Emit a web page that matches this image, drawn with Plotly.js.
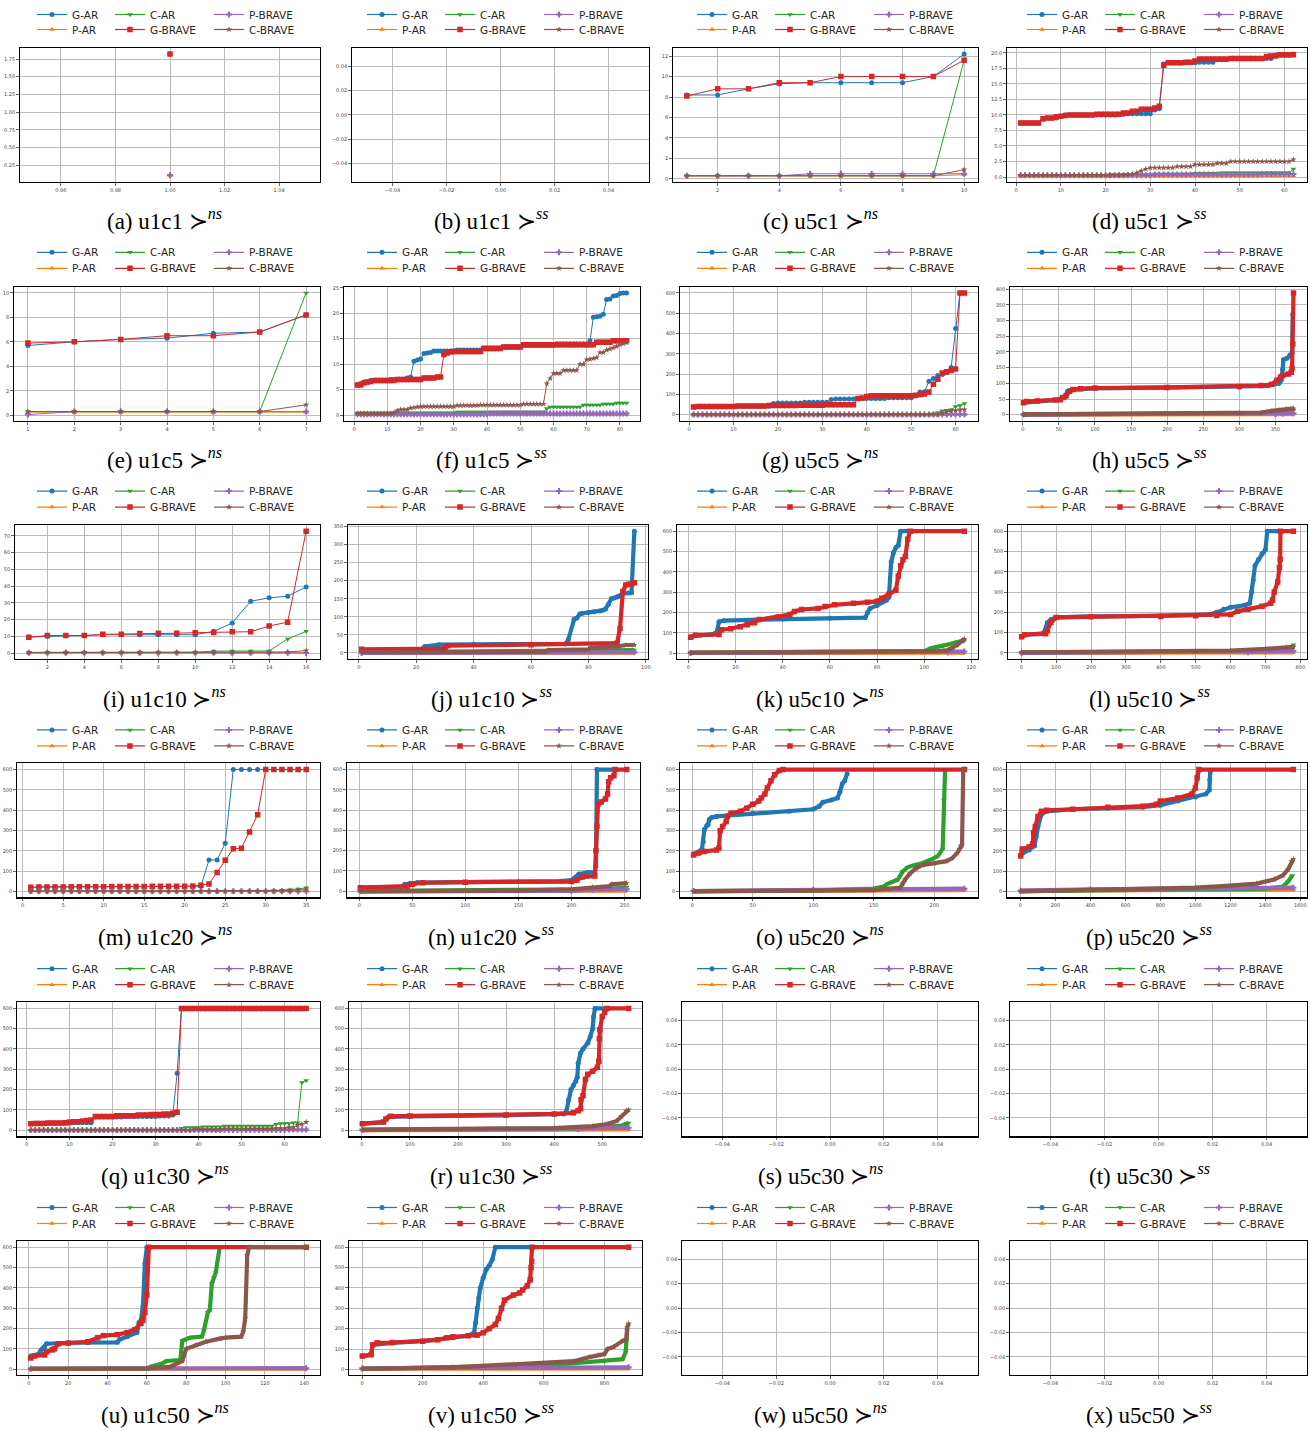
<!DOCTYPE html>
<html><head><meta charset="utf-8">
<script src="https://cdn.plot.ly/plotly-3.0.1.min.js"></script>
<style>body{margin:0;background:#fff}</style>
</head><body><div id="chart" style="width:1310px;height:1431px"></div>
<script>
const SERIES = ['G-AR','P-AR','C-AR','G-BRAVE','P-BRAVE','C-BRAVE'];

// (a) u1c1 ns
const a_GAR=[1.82], a_PAR=[0.1], a_CAR=[], a_GBR=[1.82], a_PBR=[0.11], a_CBR=[];
// (b) u1c1 ss (no data)
const b_GAR=[], b_PAR=[], b_CAR=[], b_GBR=[], b_PBR=[], b_CBR=[];
// (c) u5c1 ns
const c_GAR=[8.2,8.2,8.8,9.3,9.4,9.4,9.4,9.4,10.0,12.2];
const c_PAR=[0.3,0.3,0.3,0.3,0.3,0.3,0.3,0.3,0.3,0.4];
const c_CAR=[0.3,0.3,0.3,0.3,0.3,0.3,0.3,0.3,0.3,11.6];
const c_GBR=[8.1,8.8,8.8,9.4,9.4,10.0,10.0,10.0,10.0,11.6];
const c_PBR=[0.3,0.3,0.3,0.3,0.5,0.5,0.5,0.5,0.5,0.5];
const c_CBR=[0.3,0.3,0.3,0.3,0.3,0.3,0.3,0.3,0.3,0.9];
// (d) u5c1 ss
const d_GAR=[8.7,8.7,8.7,8.7,8.7,9.3,9.5,9.5,9.5,9.8,10.0,10.0,10.0,10.0,10.0,10.0,10.0,10.0,10.0,10.0,10.0,10.0,10.1,10.1,10.2,10.2,10.2,10.2,10.2,10.2,10.8,11.0,18.2,18.4,18.4,18.4,18.4,18.4,18.4,18.4,18.5,18.5,18.5,18.5,18.9,18.9,18.9,19.1,19.1,19.1,19.1,19.1,19.1,19.1,19.1,19.1,19.1,19.6,19.6,19.6,19.6,19.8];
const d_PAR=[0.2,0.2,0.2,0.2,0.2,0.2,0.2,0.2,0.2,0.2,0.2,0.2,0.2,0.2,0.2,0.2,0.2,0.2,0.2,0.2,0.2,0.2,0.2,0.2,0.2,0.2,0.2,0.2,0.2,0.2,0.2,0.2,0.2,0.2,0.2,0.2,0.2,0.2,0.2,0.2,0.2,0.2,0.2,0.2,0.2,0.2,0.2,0.2,0.2,0.2,0.2,0.2,0.2,0.2,0.2,0.2,0.2,0.2,0.2,0.2,0.2,0.2];
const d_CAR=[0.3,0.3,0.3,0.3,0.3,0.3,0.3,0.3,0.3,0.3,0.3,0.3,0.3,0.3,0.3,0.3,0.3,0.3,0.3,0.3,0.4,0.4,0.4,0.4,0.4,0.4,0.4,0.4,0.4,0.4,0.5,0.5,0.5,0.5,0.5,0.5,0.5,0.5,0.5,0.6,0.6,0.6,0.6,0.6,0.6,0.7,0.7,0.7,0.7,0.7,0.7,0.7,0.7,0.7,0.7,0.7,0.7,0.7,0.7,0.7,0.7,1.3];
const d_GBR=[8.7,8.7,8.7,8.7,8.7,9.4,9.5,9.5,9.7,9.8,9.9,10.0,10.0,10.0,10.0,10.0,10.0,10.1,10.1,10.1,10.1,10.1,10.1,10.3,10.3,10.6,10.6,10.9,10.9,10.9,11.1,11.4,18.0,18.4,18.4,18.4,18.4,18.5,18.5,18.7,19.0,19.0,19.0,19.0,19.0,19.0,19.0,19.1,19.1,19.1,19.1,19.1,19.1,19.1,19.1,19.4,19.5,19.5,19.7,19.7,19.7,19.7];
const d_PBR=[0.3,0.3,0.3,0.3,0.3,0.3,0.3,0.3,0.3,0.3,0.3,0.3,0.3,0.3,0.3,0.3,0.3,0.3,0.3,0.3,0.3,0.3,0.3,0.3,0.3,0.3,0.3,0.3,0.3,0.3,0.4,0.4,0.4,0.4,0.4,0.4,0.4,0.4,0.4,0.4,0.4,0.4,0.4,0.4,0.4,0.4,0.4,0.4,0.4,0.4,0.4,0.4,0.4,0.4,0.5,0.5,0.5,0.5,0.5,0.5,0.5,0.5];
const d_CBR=[0.3,0.3,0.3,0.3,0.3,0.3,0.3,0.3,0.3,0.3,0.3,0.3,0.3,0.3,0.3,0.3,0.3,0.3,0.3,0.3,0.3,0.3,0.3,0.3,0.4,0.5,0.7,1.0,1.3,1.5,1.5,1.5,1.5,1.5,1.5,1.7,1.7,1.7,1.7,2.0,2.0,2.0,2.0,2.0,2.2,2.2,2.2,2.5,2.5,2.5,2.5,2.5,2.5,2.5,2.5,2.5,2.5,2.5,2.5,2.5,2.5,2.8];
// (e) u1c5 ns
const e_GAR=[5.7,6.0,6.2,6.3,6.7,6.8,8.2];
const e_PAR=[0.25,0.25,0.25,0.25,0.25,0.25,0.25];
const e_CAR=[0.3,0.3,0.3,0.3,0.3,0.3,10.0];
const e_GBR=[5.9,6.0,6.2,6.5,6.5,6.8,8.2];
const e_PBR=[0.05,0.3,0.3,0.3,0.3,0.3,0.3];
const e_CBR=[0.3,0.3,0.3,0.3,0.3,0.3,0.85];
// (f) u1c5 ss
const f_GAR=[5.9,6.2,6.5,6.5,6.8,6.8,6.8,6.8,6.8,6.8,7.0,7.0,7.0,7.0,7.0,7.3,7.5,10.6,10.8,11.0,12.1,12.2,12.3,12.6,12.6,12.6,12.6,12.6,12.6,12.6,12.8,12.8,12.8,12.8,12.8,12.8,12.8,12.8,13.2,13.2,13.2,13.2,13.2,13.2,13.4,13.4,13.4,13.4,13.4,13.4,13.7,13.7,13.7,13.7,13.7,13.7,13.7,13.7,13.7,13.7,14.0,14.0,14.0,14.0,14.0,14.0,14.0,14.0,14.0,14.0,14.6,19.2,19.3,19.4,19.8,22.7,22.8,23.4,23.5,23.9,24.0,24.0];
const f_PAR=[0.1,0.1,0.1,0.1,0.1,0.1,0.1,0.1,0.1,0.1,0.1,0.1,0.1,0.1,0.1,0.1,0.1,0.1,0.1,0.1,0.1,0.1,0.1,0.1,0.1,0.1,0.1,0.1,0.1,0.1,0.1,0.1,0.1,0.1,0.1,0.1,0.1,0.1,0.1,0.1,0.1,0.1,0.1,0.1,0.1,0.1,0.1,0.1,0.1,0.1,0.1,0.1,0.1,0.1,0.1,0.1,0.1,0.1,0.1,0.1,0.1,0.1,0.1,0.1,0.1,0.1,0.1,0.1,0.1,0.1,0.1,0.1,0.1,0.1,0.1,0.1,0.1,0.1,0.1,0.1,0.1,0.1];
const f_CAR=[0.4,0.4,0.4,0.4,0.4,0.4,0.4,0.4,0.4,0.4,0.4,0.4,0.4,0.4,0.4,0.4,0.4,0.4,0.4,0.4,0.4,0.4,0.4,0.4,0.4,0.4,0.4,0.4,0.4,0.4,0.6,0.6,0.6,0.6,0.6,0.6,0.6,0.6,0.6,0.6,0.6,0.6,0.6,0.6,0.6,0.6,0.6,0.6,0.6,0.6,0.6,0.6,0.6,0.6,0.6,0.6,0.6,1.3,1.6,1.6,1.6,1.6,1.6,1.6,1.6,1.6,1.6,1.6,2.0,2.0,2.0,2.0,2.0,2.0,2.2,2.2,2.2,2.2,2.4,2.4,2.4,2.4];
const f_GBR=[5.9,5.9,6.3,6.5,6.6,6.8,6.8,6.8,6.8,6.8,6.8,6.8,7.0,7.0,7.0,7.0,7.0,7.0,7.0,7.0,7.3,7.3,7.3,7.3,7.5,7.5,11.9,12.2,12.4,12.5,12.5,12.5,12.5,12.5,12.5,12.5,12.5,12.5,13.1,13.1,13.1,13.1,13.1,13.1,13.4,13.4,13.4,13.4,13.4,13.4,13.8,13.8,13.8,13.8,13.8,13.8,13.8,13.8,13.8,13.8,13.8,13.8,13.8,13.8,13.8,13.8,13.8,13.8,13.8,13.8,13.8,13.8,14.3,14.3,14.3,14.3,14.3,14.6,14.6,14.6,14.6,14.6];
const f_PBR=[0.15,0.15,0.15,0.15,0.15,0.15,0.15,0.15,0.15,0.15,0.15,0.15,0.15,0.15,0.15,0.15,0.15,0.15,0.15,0.15,0.15,0.15,0.15,0.15,0.15,0.15,0.15,0.15,0.15,0.15,0.15,0.15,0.15,0.15,0.15,0.15,0.15,0.15,0.15,0.15,0.3,0.3,0.3,0.3,0.3,0.3,0.3,0.3,0.3,0.3,0.3,0.3,0.3,0.3,0.3,0.3,0.3,0.3,0.3,0.3,0.3,0.3,0.3,0.3,0.3,0.3,0.3,0.3,0.3,0.3,0.3,0.3,0.3,0.3,0.3,0.3,0.3,0.3,0.3,0.3,0.3,0.3];
const f_CBR=[0.3,0.3,0.3,0.3,0.3,0.3,0.3,0.3,0.3,0.3,0.3,0.5,0.9,1.1,1.1,1.1,1.4,1.5,1.6,1.7,1.7,1.7,1.7,1.7,1.7,1.7,1.7,1.7,1.7,1.7,1.9,1.9,1.9,1.9,1.9,1.9,1.9,2.0,2.0,2.0,2.0,2.0,2.0,2.0,2.0,2.0,2.0,2.0,2.0,2.0,2.2,2.2,2.2,2.2,2.2,2.2,2.2,6.2,7.2,8.2,8.2,8.2,8.8,8.8,8.8,8.8,8.8,10.0,10.0,10.9,11.0,11.1,11.3,12.3,12.3,12.8,13.0,13.2,13.5,13.8,14.0,14.2];
// (g) u5c5 ns
const g_GAR=[38,40,40,40,40,40,40,40,40,40,42,42,42,42,42,42,42,42,55,58,58,58,58,58,58,61,61,61,61,61,61,75,78,78,78,78,78,80,80,80,80,80,80,80,83,83,83,83,83,83,92,112,113,165,178,193,198,208,232,425,600];
const g_PAR=[0.5,0.5,0.5,0.5,0.5,0.5,0.5,0.5,0.5,0.5,0.5,0.5,0.5,0.5,0.5,0.5,0.5,0.5,0.5,0.5,0.5,0.5,0.5,0.5,0.5,0.5,0.5,0.5,0.5,0.5,0.5,0.5,0.5,0.5,0.5,0.5,0.5,0.5,0.5,0.5,0.5,0.5,0.5,0.5,0.5,0.5,0.5,0.5,0.5,0.5,0.5,0.5,0.5,0.5,0.5,0.5,0.5,0.5,0.5,0.5,0.5,0.5];
const g_CAR=[1,1,1,1,1,1,1,1,1,1,1,1,1,1,1,1,1,1,1,1,1,1,1,1,1,1,1,1,1,1,1,1,1,1,1,1,1,1,1,1,1,1,1,1,1,1,1,1,1,1,1,1,1,1,5,10,20,22,25,40,45,55];
const g_GBR=[38,40,40,40,41,41,41,41,41,41,43,43,43,43,43,43,43,45,45,45,45,45,45,45,47,47,47,47,47,47,49,49,49,49,49,49,49,80,82,90,93,93,93,93,93,93,93,93,93,93,96,100,102,112,150,175,205,212,218,225,600,600];
const g_PBR=[0.5,0.5,0.5,0.5,0.5,0.5,0.5,0.5,0.5,0.5,0.5,0.5,0.5,0.5,0.5,0.5,0.5,0.5,0.5,0.5,0.5,0.5,0.5,0.5,0.5,0.5,0.5,0.5,0.5,0.5,0.5,0.5,0.5,0.5,0.5,0.5,0.5,0.5,0.5,0.5,0.5,0.5,0.5,0.5,0.5,0.5,0.5,0.5,0.5,0.5,0.5,0.5,0.5,0.5,0.5,0.5,0.5,0.5,2,2,2,2];
const g_CBR=[1,1,1,1,1,1,1,1,1,1,1,1,1,1,1,1,1,1,1,1,1,1,1,1,1,1,1,1,1,1,1,1,1,1,1,1,1,1,1,1,1,1,1,1,1,1,1,1,1,1,1,1,1,1,1,1,8,14,18,22,25,26];
// (h) u5c5 ss  [index, seconds] read at the corners of the curves
const h_GAR=[[1,38],[50,48],[58,55],[62,75],[68,80],[100,84],[200,86],[300,88],[340,92],[355,100],[358,110],[360,145],[361,175],[366,180],[370,190],[373,195],[374,320]];
const h_PAR=[[1,0.3],[375,2]];
const h_CAR=[[1,1],[340,5],[360,12],[375,15]];
const h_GBR=[[1,38],[5,42],[20,44],[45,47],[52,48],[55,55],[60,60],[65,75],[70,80],[80,83],[100,85],[200,87],[300,90],[330,93],[345,97],[352,110],[357,120],[360,125],[368,130],[372,135],[373,148],[374,225],[375,388]];
const h_PBR=[[1,0.5],[350,2],[360,4],[375,5]];
const h_CBR=[[1,1],[300,5],[330,7],[345,12],[355,15],[365,18],[375,20]];
// (i) u1c10 ns
const i_GAR=[9.5,10,10.3,10.5,11,11,11,11,11,11,13,18,31,33,34,39.5];
const i_PAR=[0.3,0.3,0.3,0.3,0.3,0.3,0.3,0.3,0.3,0.3,0.3,0.3,0.3,0.3,0.3,0.3];
const i_CAR=[0.5,0.5,0.5,0.5,0.5,0.5,0.5,0.5,0.5,0.5,1.2,1.2,1.2,1.3,8.5,13];
const i_GBR=[9.5,10.5,10.5,10.5,11.2,11.3,11.7,11.8,11.9,12.2,12.3,12.8,12.8,16.2,18.5,72.8];
const i_PBR=[0.2,0.2,0.2,0.2,0.2,0.2,0.2,0.2,0.2,0.2,0.2,0.2,0.2,0.2,0.2,0.1];
const i_CBR=[0.3,0.3,0.3,0.3,0.3,0.3,0.3,0.3,0.3,0.3,0.4,0.4,0.4,0.5,0.7,1.5];
// (j) u1c10 ss
const j_GAR=[[1,8],[22,10],[23,18],[27,20],[28,23],[40,24],[60,24],[72,25],[73,37],[75,93],[76,97],[77,108],[78,110],[80,112],[82,114],[84,116],[85,118],[86,122],[87,135],[88,150],[89,152],[90,155],[91,158],[92,164],[94,166],[95,167],[96,337]];
const j_PAR=[[1,0.5],[96,1]];
const j_CAR=[[1,2],[66,5],[80,6],[96,8]];
const j_GBR=[[1,10],[30,12],[31,20],[60,23],[89,25],[90,27],[91,68],[92,170],[93,188],[94,190],[95,191],[96,194]];
const j_PBR=[[1,0],[96,2]];
const j_CBR=[[1,2],[65,3],[66,8],[80,10],[81,15],[90,18],[93,22],[96,22]];
// (k) u5c10 ns
const k_GAR=[[1,80],[5,88],[10,92],[11,95],[12,100],[13,155],[15,160],[30,165],[40,168],[60,172],[75,175],[76,200],[77,220],[80,235],[84,260],[85,275],[86,450],[87,495],[88,520],[89,530],[90,600],[95,600]];
const k_PAR=[[1,1],[117,3]];
const k_CAR=[[1,3],[95,5],[100,10],[103,25],[108,35],[111,45],[114,55],[116,60],[117,62]];
const k_GBR=[[1,78],[3,88],[13,92],[14,115],[18,120],[22,130],[25,140],[28,150],[30,165],[38,178],[43,190],[45,205],[48,215],[55,220],[58,230],[62,238],[70,245],[76,250],[80,255],[82,270],[85,290],[88,310],[89,380],[90,430],[91,460],[92,475],[93,560],[94,600],[117,600]];
const k_PBR=[[1,1],[110,3],[117,8]];
const k_CBR=[[1,2],[100,5],[106,10],[110,15],[112,25],[114,40],[116,60],[117,70]];
// (l) u5c10 ss
const l_GAR=[[1,80],[10,90],[60,95],[65,100],[75,150],[85,165],[100,175],[200,180],[400,182],[500,185],[540,190],[560,200],[580,215],[600,225],[640,235],[655,245],[660,300],[665,360],[670,430],[680,460],[690,490],[700,510],[705,600],[740,600]];
const l_PAR=[[1,0],[780,3]];
const l_CAR=[[1,2],[700,10],[760,20],[778,30],[780,40]];
const l_GBR=[[1,80],[10,90],[70,95],[75,110],[85,150],[100,175],[200,178],[400,180],[500,183],[560,185],[600,190],[620,205],[650,215],[690,230],[715,245],[720,260],[725,300],[735,350],[740,420],[742,460],[743,600],[780,600]];
const l_PBR=[[1,0],[650,3],[700,8],[780,10]];
const l_CBR=[[1,3],[500,8],[600,12],[700,20],[760,28],[780,30]];
// (m) u1c20 ns
const m_GAR=[18,22,22,22,22,22,22,22,22,22,22,22,22,22,22,22,22,22,22,22,22,25,155,155,237,600,600,600,600,600,600,600,600,600,600];
const m_PAR=[0.5,0.5,0.5,0.5,0.5,0.5,0.5,0.5,0.5,0.5,0.5,0.5,0.5,0.5,0.5,0.5,0.5,0.5,0.5,0.5,0.5,0.5,0.5,0.5,0.5,0.5,0.5,0.5,0.5,0.5,0.5,0.5,0.5,0.5,0.5];
const m_CAR=[2,2,2,2,2,2,2,2,2,2,2,2,2,2,2,2,2,2,2,2,2,2,2,2,2,2,2,2,2,2,5,6,8,12,18];
const m_GBR=[20,22,22,22,22,23,23,23,23,23,24,24,24,24,24,25,25,25,25,25,27,30,37,93,153,210,213,293,378,600,600,600,600,600,600];
const m_PBR=[0.5,0.5,0.5,0.5,0.5,0.5,0.5,0.5,0.5,0.5,0.5,0.5,0.5,0.5,0.5,0.5,0.5,0.5,0.5,0.5,0.5,0.5,0.5,0.5,0.5,0.5,0.5,0.5,0.5,0.5,0.5,0.5,0.5,0.5,0.5];
const m_CBR=[1,1,1,1,1,1,1,1,1,1,1,1,1,1,1,1,1,1,1,1,1,1,1,1,1,1,1,1,1,1,1,3,5,7,9];
// (n) u1c20 ss
const n_GAR=[[1,18],[40,22],[43,35],[48,40],[55,43],[100,45],[150,47],[190,50],[200,55],[207,85],[215,92],[222,95],[223,125],[224,600],[240,600]];
const n_PAR=[[1,0],[252,3]];
const n_CAR=[[1,1],[200,5],[230,10],[252,20]];
const n_GBR=[[1,18],[45,25],[50,35],[60,42],[100,45],[200,48],[205,55],[210,70],[222,75],[223,200],[224,320],[225,430],[228,440],[232,455],[234,480],[235,540],[237,560],[240,570],[241,600],[252,600]];
const n_PBR=[[1,0],[200,2],[220,8],[252,10]];
const n_CBR=[[1,1],[150,3],[200,10],[220,20],[236,25],[238,35],[252,40]];
// (o) u5c20 ns
const o_GAR=[[1,185],[5,195],[8,210],[9,245],[10,305],[12,325],[13,330],[14,355],[16,365],[20,370],[30,375],[50,385],[80,395],[100,405],[105,420],[108,440],[115,450],[120,460],[122,490],[124,530],[126,545],[128,580]];
const o_PAR=[[1,3],[225,8]];
const o_CAR=[[1,3],[100,6],[150,15],[158,25],[162,40],[166,50],[170,60],[174,100],[178,120],[183,130],[190,140],[198,160],[203,175],[207,210],[208,450],[209,600]];
const o_GBR=[[1,180],[5,190],[10,198],[20,205],[22,215],[23,300],[25,320],[28,345],[29,370],[32,385],[40,395],[45,410],[50,430],[55,445],[57,460],[60,480],[62,510],[65,545],[68,575],[72,595],[75,600],[225,600]];
const o_PBR=[[1,3],[100,10],[225,15]];
const o_CBR=[[1,2],[150,8],[172,20],[174,40],[176,60],[180,90],[185,115],[190,130],[200,140],[210,150],[215,165],[219,190],[221,210],[222,225],[223,230],[224,600],[225,600]];
// (p) u5c20 ss
const p_GAR=[[1,180],[50,205],[80,225],[90,270],[100,320],[120,380],[150,395],[300,405],[500,410],[700,415],[800,425],[900,445],[1000,465],[1060,480],[1080,500],[1082,550],[1085,590]];
const p_PAR=[[1,5],[1560,10]];
const p_CAR=[[1,3],[1400,15],[1500,25],[1530,50],[1550,75],[1555,80]];
const p_GBR=[[1,175],[10,210],[50,220],[70,235],[75,290],[85,320],[100,370],[120,395],[150,400],[300,405],[500,415],[700,420],[780,430],[800,445],[900,460],[980,480],[1000,510],[1010,560],[1020,600],[1560,600]];
const p_PBR=[[1,5],[400,12],[1200,18],[1560,20]];
const p_CBR=[[1,2],[600,10],[1000,20],[1200,30],[1350,40],[1450,60],[1500,80],[1530,110],[1550,150],[1560,160]];
// (q) u1c30 ns
const q_GAR=[32,34,34,34,34,34,34,34,34,34,37,37,37,37,37,65,65,65,65,65,65,65,68,68,68,68,68,68,68,68,70,70,70,75,280,600];
const q_PAR=[0.5,0.5,0.5,0.5,0.5,0.5,0.5,0.5,0.5,0.5,0.5,0.5,0.5,0.5,0.5,0.5,0.5,0.5,0.5,0.5,0.5,0.5,0.5,0.5,0.5,0.5,0.5,0.5,0.5,0.5,0.5,0.5,0.5,0.5,0.5,0.5,0.5,0.5,0.5,0.5,0.5,0.5,0.5,0.5,0.5,0.5,0.5,0.5,0.5,0.5,0.5,0.5,0.5,0.5,0.5,0.5,0.5,0.5,0.5,0.5,0.5,0.5,0.5,0.5,0.5];
const q_CAR=[1,1,1,1,1,1,1,1,1,1,1,1,1,1,1,1,1,1,1,1,1,1,1,1,1,1,1,1,1,1,1,1,1,1,1,10,13,13,13,13,17,17,17,17,17,21,21,21,21,21,21,21,21,21,21,21,21,30,33,33,33,37,37,235,245];
const q_GBR=[32,33,33,33,35,35,35,35,37,40,42,42,45,48,50,68,68,68,68,68,71,71,71,71,71,75,75,75,78,78,78,80,80,84,88,600,600,600,600,600,600,600,600,600,600,600,600,600,600,600,600,600,600,600,600,600,600,600,600,600,600,600,600,600,600];
const q_PBR=[1,1,1,1,1,1,1,1,1,1,1,1,1,1,1,1,1,1,1,1,1,1,1,1,1,1,1,1,1,1,1,1,1,1,1,1,1,1,1,1,1,1,1,1,1,1,1,1,1,1,1,1,1,1,1,1,1,1,1,1,3,3,3,3,3];
const q_CBR=[1,1,1,1,1,1,1,1,1,1,1,1,1,1,1,1,1,1,1,1,1,1,1,1,1,1,1,1,1,1,1,1,1,1,1,1,1,1,4,4,4,4,4,4,4,7,7,7,7,7,7,7,7,7,7,7,7,10,10,10,15,15,25,30,40];
// (r) u1c30 ss
const r_GAR=[[1,32],[45,38],[55,65],[100,68],[300,73],[400,78],[420,80],[425,90],[430,150],[435,200],[440,220],[445,240],[448,260],[450,330],[455,380],[460,400],[470,430],[475,460],[480,500],[482,560],[485,600],[510,600]];
const r_PAR=[[1,0],[555,3]];
const r_CAR=[[1,1],[450,8],[500,15],[540,22],[550,32],[555,35]];
const r_GBR=[[1,32],[45,40],[50,55],[60,68],[100,70],[300,75],[400,80],[440,85],[450,95],[455,105],[456,150],[460,170],[465,250],[470,275],[480,290],[490,310],[493,340],[494,450],[495,495],[500,560],[505,580],[510,600],[555,600]];
const r_PBR=[[1,0],[450,5],[480,10],[555,12]];
const r_CBR=[[1,2],[400,10],[480,20],[510,30],[530,45],[540,70],[550,95],[555,100]];
// (s), (t) u5c30: no data
const s_GAR=[], s_PAR=[], s_CAR=[], s_GBR=[], s_PBR=[], s_CBR=[];
const t_GAR=[], t_PAR=[], t_CAR=[], t_GBR=[], t_PBR=[], t_CBR=[];
// (u) u1c50 ns
const u_GAR=[[1,65],[5,75],[6,90],[7,100],[8,110],[9,125],[20,130],[30,130],[45,132],[46,145],[50,160],[55,180],[56,230],[57,240],[58,310],[59,520],[60,600]];
const u_PAR=[[1,2],[141,3]];
const u_CAR=[[1,2],[60,5],[63,15],[67,25],[70,40],[77,45],[78,140],[80,145],[82,155],[88,160],[89,190],[91,280],[92,290],[93,420],[94,450],[95,475],[97,600]];
const u_GBR=[[1,55],[3,65],[8,70],[9,85],[12,95],[13,100],[15,125],[20,128],[30,135],[35,155],[38,165],[45,170],[50,180],[54,195],[57,225],[58,240],[59,280],[60,365],[61,600],[141,600]];
const u_PBR=[[1,2],[141,5]];
const u_CBR=[[1,1],[60,3],[72,12],[78,40],[80,100],[85,120],[90,135],[97,150],[100,155],[108,160],[109,185],[110,250],[111,560],[112,600],[141,600]];
// (v) u1c50 ss
const v_GAR=[[1,65],[30,72],[35,120],[100,130],[200,138],[300,155],[350,165],[370,180],[375,230],[380,300],[385,350],[390,400],[400,450],[410,490],[420,510],[430,540],[440,600],[560,600]];
const v_PAR=[[1,3],[880,5]];
const v_CAR=[[1,2],[600,20],[700,30],[800,40],[860,50],[870,85],[875,190]];
const v_GBR=[[1,65],[30,72],[35,120],[50,130],[100,132],[200,138],[250,145],[280,155],[300,160],[350,165],[380,168],[400,180],[420,200],[440,220],[450,250],[460,300],[470,340],[500,365],[520,375],[530,390],[545,410],[555,440],[558,500],[560,530],[561,600],[880,600]];
const v_PBR=[[1,5],[880,10]];
const v_CBR=[[1,2],[300,10],[500,25],[600,30],[700,40],[750,60],[780,70],[800,75],[810,100],[830,110],[860,140],[872,145],[875,205],[880,225]];
// (w), (x) u5c50: no data
const w_GAR=[], w_PAR=[], w_CAR=[], w_GBR=[], w_PBR=[], w_CBR=[];
const x_GAR=[], x_PAR=[], x_CAR=[], x_GBR=[], x_PBR=[], x_CBR=[];

// panel table: label, caption name, relation, data kind, tick steps
const PANELS = [
 {k:'a',name:'u1c1',rel:'ns',kind:'idx',d:[a_GAR,a_PAR,a_CAR,a_GBR,a_PBR,a_CBR],dx:0.02,dy:0.25,fx:'.2f',fy:'.2f'},
 {k:'b',name:'u1c1',rel:'ss',kind:'idx',d:[b_GAR,b_PAR,b_CAR,b_GBR,b_PBR,b_CBR],dx:0.02,dy:0.02,fx:'.2f',fy:'.2f'},
 {k:'c',name:'u5c1',rel:'ns',kind:'idx',d:[c_GAR,c_PAR,c_CAR,c_GBR,c_PBR,c_CBR],dx:2,dy:2},
 {k:'d',name:'u5c1',rel:'ss',kind:'idx',d:[d_GAR,d_PAR,d_CAR,d_GBR,d_PBR,d_CBR],dx:10,dy:2.5,fy:'.1f'},
 {k:'e',name:'u1c5',rel:'ns',kind:'idx',d:[e_GAR,e_PAR,e_CAR,e_GBR,e_PBR,e_CBR],dx:1,dy:2},
 {k:'f',name:'u1c5',rel:'ss',kind:'idx',d:[f_GAR,f_PAR,f_CAR,f_GBR,f_PBR,f_CBR],dx:10,dy:5},
 {k:'g',name:'u5c5',rel:'ns',kind:'idx',d:[g_GAR,g_PAR,g_CAR,g_GBR,g_PBR,g_CBR],dx:10,dy:100},
 {k:'h',name:'u5c5',rel:'ss',kind:'pts',d:[h_GAR,h_PAR,h_CAR,h_GBR,h_PBR,h_CBR],dx:50,dy:50},
 {k:'i',name:'u1c10',rel:'ns',kind:'idx',d:[i_GAR,i_PAR,i_CAR,i_GBR,i_PBR,i_CBR],dx:2,dy:10},
 {k:'j',name:'u1c10',rel:'ss',kind:'pts',d:[j_GAR,j_PAR,j_CAR,j_GBR,j_PBR,j_CBR],dx:20,dy:50},
 {k:'k',name:'u5c10',rel:'ns',kind:'pts',d:[k_GAR,k_PAR,k_CAR,k_GBR,k_PBR,k_CBR],dx:20,dy:100},
 {k:'l',name:'u5c10',rel:'ss',kind:'pts',d:[l_GAR,l_PAR,l_CAR,l_GBR,l_PBR,l_CBR],dx:100,dy:100},
 {k:'m',name:'u1c20',rel:'ns',kind:'idx',d:[m_GAR,m_PAR,m_CAR,m_GBR,m_PBR,m_CBR],dx:5,dy:100},
 {k:'n',name:'u1c20',rel:'ss',kind:'pts',d:[n_GAR,n_PAR,n_CAR,n_GBR,n_PBR,n_CBR],dx:50,dy:100},
 {k:'o',name:'u5c20',rel:'ns',kind:'pts',d:[o_GAR,o_PAR,o_CAR,o_GBR,o_PBR,o_CBR],dx:50,dy:100},
 {k:'p',name:'u5c20',rel:'ss',kind:'pts',d:[p_GAR,p_PAR,p_CAR,p_GBR,p_PBR,p_CBR],dx:200,dy:100},
 {k:'q',name:'u1c30',rel:'ns',kind:'idx',d:[q_GAR,q_PAR,q_CAR,q_GBR,q_PBR,q_CBR],dx:10,dy:100},
 {k:'r',name:'u1c30',rel:'ss',kind:'pts',d:[r_GAR,r_PAR,r_CAR,r_GBR,r_PBR,r_CBR],dx:100,dy:100},
 {k:'s',name:'u5c30',rel:'ns',kind:'idx',d:[s_GAR,s_PAR,s_CAR,s_GBR,s_PBR,s_CBR],dx:0.02,dy:0.02,fx:'.2f',fy:'.2f'},
 {k:'t',name:'u5c30',rel:'ss',kind:'idx',d:[t_GAR,t_PAR,t_CAR,t_GBR,t_PBR,t_CBR],dx:0.02,dy:0.02,fx:'.2f',fy:'.2f'},
 {k:'u',name:'u1c50',rel:'ns',kind:'pts',d:[u_GAR,u_PAR,u_CAR,u_GBR,u_PBR,u_CBR],dx:20,dy:100},
 {k:'v',name:'u1c50',rel:'ss',kind:'pts',d:[v_GAR,v_PAR,v_CAR,v_GBR,v_PBR,v_CBR],dx:200,dy:100},
 {k:'w',name:'u5c50',rel:'ns',kind:'idx',d:[w_GAR,w_PAR,w_CAR,w_GBR,w_PBR,w_CBR],dx:0.02,dy:0.02,fx:'.2f',fy:'.2f'},
 {k:'x',name:'u5c50',rel:'ss',kind:'idx',d:[x_GAR,x_PAR,x_CAR,x_GBR,x_PBR,x_CBR],dx:0.02,dy:0.02,fx:'.2f',fy:'.2f'}
];

// ---------- layout / style ----------
const W=1310, H=1431;
const COLORS=['#1f77b4','#ff7f0e','#2ca02c','#d62728','#9467bd','#8c564b'];
const SYMBOLS=['circle','triangle-up','triangle-down','square','cross','star'];
const MSIZE=[5,5,5,5.5,5,4.8];
const ROW_TOP=[47,286,524.5,763,1002,1241], PLOT_H=134;
const BOX_X={a:[20,320],b:[352,649],c:[673,978],d:[1007,1307],
 e:[14,320],f:[344,640],g:[680,978],h:[1010,1307],
 i:[15,320],j:[348,648],k:[677,978],l:[1008,1307],
 m:[17,320],n:[347,640],o:[680,978],p:[1007,1307],
 q:[17,320],r:[349,642],s:[682,978],t:[1010,1307],
 u:[17,320],v:[349,642],w:[682,978],x:[1010,1307]};
const COL_ORIGIN=[0,330,660,990], LEG_TEXT=[72,150,249];
const LEG_Y0=13.5, ROW_STEP=238.8, LEG_DY=16;
const CAP_X=[165,491,820,1149], CAP_Y0=219;

function padRange(lo,hi){
  if(lo===hi){const e=lo===0?0.05:Math.abs(lo)*0.05; lo-=e; hi+=e;}
  const m=(hi-lo)*0.05; return [lo-m,hi+m];
}

const traces=[];
const layout={width:W,height:H,margin:{l:0,r:0,t:0,b:0},paper_bgcolor:'#ffffff',plot_bgcolor:'#ffffff',
  showlegend:true,annotations:[],hovermode:false};
const axBase={showline:true,mirror:true,linecolor:'#000',linewidth:1.3,showgrid:true,gridcolor:'#b4b4b4',gridwidth:0.9,
  zeroline:false,ticks:'outside',ticklen:2.5,tickwidth:0.6,tickcolor:'#000',
  tickfont:{family:'DejaVu Sans',size:5,color:'#444'},tickmode:'linear',tick0:0,fixedrange:true};

PANELS.forEach((p,pi)=>{
  const row=Math.floor(pi/4), col=pi%4;
  const xa=pi===0?'x':'x'+(pi+1), ya=pi===0?'y':'y'+(pi+1);
  const xk=pi===0?'xaxis':'xaxis'+(pi+1), yk=pi===0?'yaxis':'yaxis'+(pi+1);
  const allX=[], allY=[];
  p.d.forEach((arr,si)=>{
    if(!arr.length) return;
    let xs, ys;
    if(p.kind==='pts'){ xs=arr.map(v=>v[0]); ys=arr.map(v=>v[1]); }
    else { xs=arr.map((v,i)=>i+1); ys=arr.slice(); }
    allX.push(...xs); allY.push(...ys);
    traces.push({type:'scatter',mode:'lines+markers',x:xs,y:ys,xaxis:xa,yaxis:ya,showlegend:false,hoverinfo:'skip',
      line:{color:COLORS[si],width:p.kind==='pts'?4.2:1},
      marker:{color:COLORS[si],symbol:SYMBOLS[si],size:MSIZE[si]}});
  });
  const xr=allX.length?padRange(Math.min(...allX),Math.max(...allX)):padRange(0,0);
  const yr=allY.length?padRange(Math.min(...allY),Math.max(...allY)):padRange(0,0);
  const bx=BOX_X[p.k], top=ROW_TOP[row];
  layout[xk]=Object.assign({},axBase,{domain:[bx[0]/W,bx[1]/W],range:xr,dtick:p.dx,tickformat:p.fx||'',anchor:ya});
  layout[yk]=Object.assign({},axBase,{domain:[1-(top+PLOT_H)/H,1-top/H],range:yr,dtick:p.dy,tickformat:p.fy||'',anchor:xa});
  // legend: one small legend per entry, 3 columns x 2 rows
  SERIES.forEach((nm,si)=>{
    const n=pi*6+si, lid=n===0?'legend':'legend'+(n+1);
    traces.push({type:'scatter',mode:'lines+markers',x:[null],y:[null],xaxis:xa,yaxis:ya,name:nm,legend:lid,showlegend:true,
      line:{color:COLORS[si],width:1.2},marker:{color:COLORS[si],symbol:SYMBOLS[si],size:MSIZE[si]}});
    const lc=Math.floor(si/2), lr=si%2;
    layout[lid]={x:(COL_ORIGIN[col]+LEG_TEXT[lc]-40)/W,y:1-(LEG_Y0+ROW_STEP*row+LEG_DY*lr)/H,xref:'paper',yref:'paper',
      xanchor:'left',yanchor:'middle',bgcolor:'rgba(0,0,0,0)',borderwidth:0,orientation:'v',
      font:{family:'DejaVu Sans',size:10.5,color:'#262626'}};
  });
  layout.annotations.push({xref:'paper',yref:'paper',x:CAP_X[col]/W,y:1-(CAP_Y0+ROW_STEP*row)/H,
    xanchor:'center',yanchor:'middle',showarrow:false,
    text:'('+p.k+') '+p.name+' \u227B<sup><i>'+p.rel+'</i></sup>',
    font:{family:'Liberation Serif, DejaVu Serif, serif',size:23,color:'#000'}});
});

Plotly.newPlot('chart',traces,layout,{staticPlot:true,displayModeBar:false});
</script>
</body></html>
